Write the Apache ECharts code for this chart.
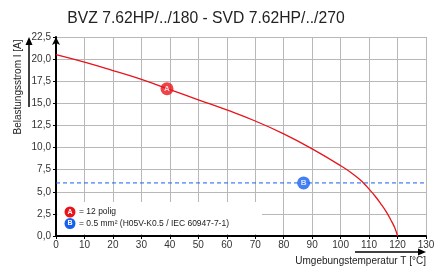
<!DOCTYPE html>
<html><head><meta charset="utf-8">
<script src="https://cdn.jsdelivr.net/npm/echarts@6/dist/echarts.min.js"></script>
<style>html,body{margin:0;padding:0;background:#fff}#c{width:438px;height:271px}</style>
</head><body><div id="c"></div>
<script>
const titleText = 'BVZ 7.62HP/../180 - SVD 7.62HP/../270';
const xName = 'Umgebungstemperatur T [°C]';
const yName = 'Belastungsstrom I [A]';
const curveT = [0,10,20,30,40,50,60,70,80,90,100,105,108,110,112,114,116,118,119,120];
const curveI = [20.5,19.65,18.7,17.7,16.55,15.4,14.25,13.0,11.55,9.85,7.95,6.85,6.0,5.3,4.55,3.7,2.75,1.6,0.95,0];
const limitT = [0,130];
const limitI = [6,6];
const markerA = [39,16.65];
const markerB = [87,6];
const legendA = '= 12 polig';
const legendB = '= 0.5 mm² (H05V-K0.5 / IEC 60947-7-1)';
const RED = '#e8141b', BLUE = '#1560f0';
const font = 'Liberation Sans, Arial, sans-serif';

const chart = echarts.init(document.getElementById('c'), null, {renderer:'canvas'});
const fmt1 = v => v.toFixed(1).replace('.', ',');
const grid = {show:true,lineStyle:{color:'#b8b8b8',width:1,type:'solid',opacity:1}};
chart.setOption({
  animation:false,
  backgroundColor:'#fff',
  title:{text:titleText,left:201,top:6,textAlign:'center',textStyle:{fontFamily:font,fontSize:15.7,fontWeight:'normal',color:'#222'}},
  grid:{left:56,right:12,top:37,bottom:35},
  xAxis:{type:'value',min:0,max:130,interval:10,
    axisLine:{show:true,onZero:false,lineStyle:{color:'#000',width:2}},
    axisTick:{show:true,length:3,lineStyle:{color:'#000'}},
    axisLabel:{margin:4,fontFamily:font,fontSize:10,color:'#333'},
    splitLine:grid},
  yAxis:{type:'value',min:0,max:22.5,interval:2.5,
    axisLine:{show:true,onZero:false,symbol:['none','arrow'],symbolSize:[6,8],lineStyle:{color:'#000',width:2}},
    axisTick:{show:true,length:3,lineStyle:{color:'#000'}},
    axisLabel:{margin:5,fontFamily:font,fontSize:10,color:'#333',formatter:fmt1},
    splitLine:grid},
  series:[
    {type:'line',data:limitT.map((t,i)=>[t,limitI[i]]),symbol:'none',lineStyle:{color:BLUE,width:1,type:[4,3]},z:3},
    {type:'line',data:curveT.map((t,i)=>[t,curveI[i]]),symbol:'none',smooth:0.5,lineStyle:{color:RED,width:1.3},z:4},
    {type:'scatter',data:[markerA],symbolSize:13,itemStyle:{color:RED},z:6,
      label:{show:true,position:'inside',formatter:'A',color:'#fff',fontSize:8,fontWeight:'bold',fontFamily:font}},
    {type:'scatter',data:[markerB],symbolSize:13,itemStyle:{color:BLUE},z:6,
      label:{show:true,position:'inside',formatter:'B',color:'#fff',fontSize:8,fontWeight:'bold',fontFamily:font}}
  ],
  graphic:[
    {type:'rect',shape:{x:57.5,y:202,width:204.5,height:32},style:{fill:'#fff'},z:5},
    {type:'circle',shape:{cx:70,cy:212,r:5.5},style:{fill:RED},z:6},
    {type:'text',x:70,y:212,style:{text:'A',fill:'#fff',font:'bold 7px '+font,textAlign:'center',textVerticalAlign:'middle'},z:7},
    {type:'circle',shape:{cx:70,cy:223.5,r:5.5},style:{fill:BLUE},z:6},
    {type:'text',x:70,y:223.5,style:{text:'B',fill:'#fff',font:'bold 7px '+font,textAlign:'center',textVerticalAlign:'middle'},z:7},
    {type:'text',x:79,y:212,style:{text:legendA,fill:'#222',font:'8.5px '+font,textVerticalAlign:'middle'},z:7},
    {type:'text',x:79,y:223.5,style:{text:legendB,fill:'#222',font:'8.5px '+font,textVerticalAlign:'middle'},z:7},
    {type:'text',x:18,y:87,rotation:Math.PI/2,style:{text:yName,fill:'#222',font:'10px '+font,textAlign:'center',textVerticalAlign:'middle'},z:7},
    {type:'line',shape:{x1:29,y1:107,x2:29,y2:43},style:{stroke:'#000',lineWidth:1.5},z:7},
    {type:'polygon',shape:{points:[[29,37],[25.5,45],[32.5,45]]},style:{fill:'#000'},z:7},
    {type:'line',shape:{x1:355,y1:252,x2:419,y2:252},style:{stroke:'#000',lineWidth:1.5},z:7},
    {type:'polygon',shape:{points:[[426,252],[418,248.5],[418,255.5]]},style:{fill:'#000'},z:7},
    {type:'text',x:426,y:261,style:{text:xName,fill:'#222',font:'10px '+font,textAlign:'right',textVerticalAlign:'middle'},z:7}
  ]
});
</script></body></html>
